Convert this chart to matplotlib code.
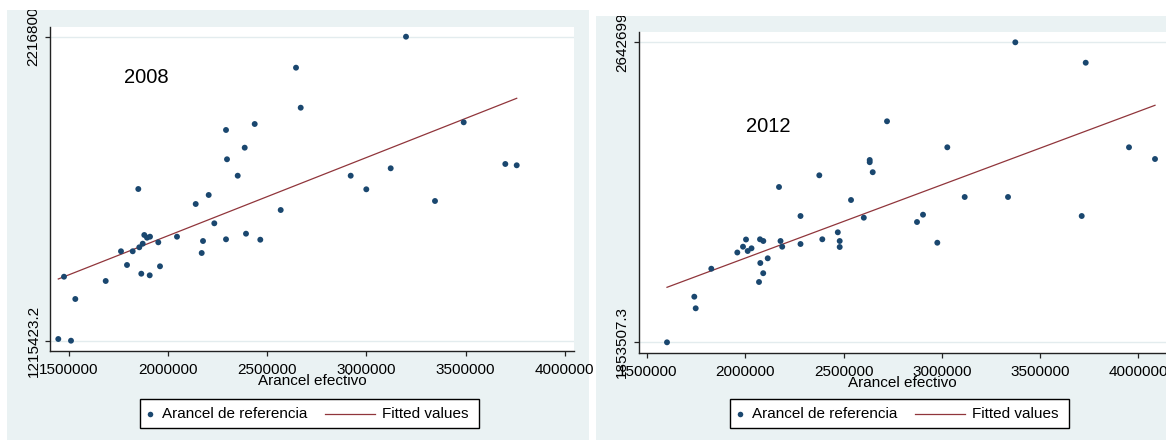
import numpy as np
import matplotlib
matplotlib.use('Agg')
import matplotlib.pyplot as plt
from matplotlib.patches import Rectangle
from matplotlib.lines import Line2D

plt.rcParams['font.family'] = ['Liberation Sans', 'DejaVu Sans']

# 2008 panel: arancel efectivo (x) vs arancel de referencia (y)
x08 = [1446000, 1510100, 1531800, 1474800, 1685100, 1762200, 1792500, 1821200,
       1849500, 1854500, 1871700, 1864600, 1879700, 1893400, 1908500, 1907000,
       1950300, 1958900, 2044600, 2139000, 2169200, 2175800, 2204500, 2232800,
       2291800, 2296800, 2291800, 2350800, 2386100, 2392600, 2436500, 2464700,
       2567600, 2644800, 2668500, 2920600, 2999300, 3122300, 3199500, 3345700,
       3490500, 3700300, 3757800]
y08 = [1221000, 1215423, 1352800, 1426200, 1412100, 1510000, 1464800, 1510000,
       1715100, 1523100, 1535000, 1436100, 1563600, 1554700, 1558000, 1430800,
       1539500, 1460500, 1558000, 1665700, 1504300, 1543800, 1695400, 1602100,
       1909500, 1813000, 1549400, 1758900, 1851200, 1567900, 1929200, 1548100,
       1645900, 2114700, 1982900, 1758900, 1714100, 1783300, 2216800, 1675600,
       1934800, 1797500, 1793200]
fit08_x = [1446000, 3757800]
fit08_y = [1418700, 2013900]

# 2012 panel
x12 = [1600300, 1739300, 1746400, 1825900, 1958300, 1987300, 2002600, 2011200,
       2030600, 2073900, 2090700, 2075400, 2090200, 2068800, 2113100, 2170600,
       2178300, 2186900, 2280100, 2280100, 2375800, 2391100, 2470000, 2479700,
       2479700, 2537300, 2602400, 2632500, 2632500, 2647800, 2720600, 2873300,
       2903900, 2976700, 3027600, 3116200, 3336700, 3373900, 3712000, 3732400,
       3952800, 4085200]
y12 = [1853507, 1973500, 1942950, 2047100, 2089750, 2105000, 2123950, 2093700,
       2100800, 2124500, 2120000, 2062100, 2035300, 2012150, 2074500, 2262050,
       2120000, 2105000, 2185750, 2112100, 2292800, 2124500, 2142900, 2120000,
       2104200, 2227850, 2181300, 2333100, 2327300, 2300950, 2434900, 2169950,
       2189200, 2115500, 2366500, 2235750, 2235750, 2642699, 2185750, 2589000,
       2366500, 2335700]
fit12_x = [1600300, 4085200]
fit12_y = [1998200, 2477000]

xticks = [1500000, 2000000, 2500000, 3000000, 3500000, 4000000]
yticks08 = [1215423.2, 2216800]
ylabels08 = ['1215423.2', '2216800']
yticks12 = [1853507.3, 2642699]
ylabels12 = ['1853507.3', '2642699']

BG = '#EAF2F3'
NAVY = '#1A476F'
MAROON = '#90353B'
W, H = 1166, 441

fig = plt.figure(figsize=(W / 100, H / 100), dpi=100)


def frac_rect(x0, y0, x1, y1):
    return [x0 / W, 1 - y1 / H, (x1 - x0) / W, (y1 - y0) / H]


def add_bg(x0, y0, x1, y1):
    r = Rectangle((x0 / W, 1 - y1 / H), (x1 - x0) / W, (y1 - y0) / H,
                  transform=fig.transFigure, facecolor=BG, edgecolor='none', zorder=-5)
    fig.add_artist(r)
    return r


def add_legend(x0, y0):
    # Stata style legend box: dot + label, line + label
    w, h = 339, 29
    fig.add_artist(Rectangle((x0 / W, 1 - (y0 + h) / H), w / W, h / H,
                             transform=fig.transFigure, facecolor='white',
                             edgecolor='black', lw=1.0))
    yc = 1 - (y0 + h / 2) / H
    fig.add_artist(Line2D([(x0 + 10) / W], [yc], marker='o', ms=4, color=NAVY,
                          mec='none', transform=fig.transFigure))
    fig.text((x0 + 22) / W, yc, 'Arancel de referencia', fontsize=11, va='center')
    fig.add_artist(Line2D([(x0 + 185) / W, (x0 + 235) / W], [yc, yc], color=MAROON,
                          lw=0.9, transform=fig.transFigure))
    fig.text((x0 + 242) / W, yc, 'Fitted values', fontsize=11, va='center')


def panel(rect, bg, xs, ys, fx, fy, xlim, ylim, yt, ytl, label, label_pos):
    ax = fig.add_axes(rect)
    ax.set_facecolor('white')
    ax.scatter(xs, ys, s=18, color=NAVY, edgecolors='none', zorder=3)
    ax.plot(fx, fy, color=MAROON, lw=0.9, zorder=2)
    ax.set_xlim(xlim)
    ax.set_ylim(ylim)
    ax.set_xticks(xticks)
    ax.set_xticklabels([str(v) for v in xticks])
    ax.set_yticks(yt)
    ax.set_yticklabels(ytl)
    for v in yt:
        ax.axhline(v, color='#E3ECEE', lw=1.0, zorder=1)
    for s in ['top', 'right']:
        ax.spines[s].set_visible(False)
    for s in ['left', 'bottom']:
        ax.spines[s].set_color('#222222')
        ax.spines[s].set_linewidth(1.0)
    ax.tick_params(axis='both', direction='out', length=3.6, width=0.9,
                   color='#222222', labelsize=11)
    ax.tick_params(axis='x', pad=5)
    ax.tick_params(axis='y', pad=3.5, labelrotation=90)
    for lbl in ax.get_yticklabels():
        lbl.set_va('center')
        lbl.set_clip_path(bg)
    ax.set_xlabel('Arancel efectivo', fontsize=11, labelpad=-2)
    ax.text(label_pos[0], label_pos[1], label, fontsize=14.5, ha='center', va='center')
    return ax


bg_left = add_bg(7, 10, 589, 440)
bg_right = add_bg(596, 16, 1166, 440)

panel(frac_rect(50.3, 26.7, 574, 351), bg_left, x08, y08, fit08_x, fit08_y,
      (1405700, 4046700), (1181500, 2249700), yticks08, ylabels08,
      '2008', (1891800, 2083100))
panel(frac_rect(639, 32.3, 1166, 353.3), bg_right, x12, y12, fit12_x, fit12_y,
      (1457700, 4141200), (1824600, 2669000), yticks12, ylabels12,
      '2012', (2116100, 2422500))

add_legend(140, 399)
add_legend(730, 399)

fig.savefig('out.png', dpi=100)
